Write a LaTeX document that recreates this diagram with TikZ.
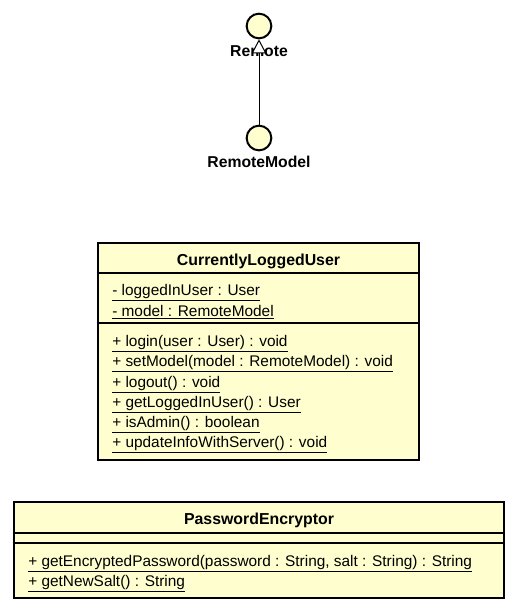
\documentclass[tikz,border=0pt]{standalone}
\usepackage{fontspec}
\setmainfont{Liberation Sans}
\usetikzlibrary{arrows.meta}
\definecolor{umlfill}{HTML}{FEFECE}

\begin{document}
\begin{tikzpicture}[
  x=0.75pt, y=-0.75pt,
  iface/.style={circle, draw=black, fill=umlfill, line width=1.5pt, minimum size=18.5pt, inner sep=0pt},
  ifacename/.style={font=\fontsize{11.8}{13}\selectfont\bfseries, inner sep=0pt},
  classbox/.style={draw=black, fill=umlfill, line width=2.2pt, inner sep=0pt},
  classname/.style={font=\fontsize{11.9}{13}\selectfont\bfseries, inner sep=0pt},
  member/.style={anchor=base west, font=\fontsize{11.55}{13}\selectfont, inner sep=0pt},
  sepline/.style={draw=black, line width=1pt},
  realize/.style={draw=black, line width=0.75pt, -{Triangle[fill=white, length=10.5pt, width=11pt]}}
]
  \useasboundingbox (0,0) rectangle (518,612);

  % interfaces
  \node[iface] (remote) at (259,26) {};
  \node[ifacename] (remotename) at (259,51) {Remote};
  \node[iface] (remotemodel) at (259,138) {};
  \node[ifacename] (remotemodelname) at (259,162) {RemoteModel};
  \draw[realize] (remotemodel) -- (remote);

  % CurrentlyLoggedUser
  \node[classbox, minimum width=240.75pt, minimum height=162.75pt] (clu) at (258.5,351.5) {};
  \node[classname] (clutitle) at (258.5,261) {CurrentlyLoggedUser};
  \draw[sepline] (clu.west |- 0,273) -- (clu.east |- 0,273);
  \draw[sepline] (clu.west |- 0,323) -- (clu.east |- 0,323);
  \node[member] (cluattra) at (112,295) {\underline{- loggedInUser : User}};
  \node[member] (cluattrb) at (112,316) {\underline{- model : RemoteModel}};
  \node[member] (cluopa) at (112,346) {\underline{+ login(user : User) : void}};
  \node[member] (cluopb) at (112,366) {\underline{+ setModel(model : RemoteModel) : void}};
  \node[member] (cluopc) at (112,387) {\underline{+ logout() : void}};
  \node[member] (cluopd) at (112,407) {\underline{+ getLoggedInUser() : User}};
  \node[member] (cluope) at (112,427) {\underline{+ isAdmin() : boolean}};
  \node[member] (cluopf) at (112,447) {\underline{+ updateInfoWithServer() : void}};

  % PasswordEncryptor
  \node[classbox, minimum width=367.5pt, minimum height=72pt] (pe) at (259,550) {};
  \node[classname] (petitle) at (259,520) {PasswordEncryptor};
  \draw[sepline] (pe.west |- 0,533) -- (pe.east |- 0,533);
  \draw[sepline] (pe.west |- 0,543) -- (pe.east |- 0,543);
  \node[member] (peopa) at (28,566) {\underline{+ getEncryptedPassword(password : String, salt : String) : String}};
  \node[member] (peopb) at (28,586) {\underline{+ getNewSalt() : String}};
\end{tikzpicture}
\end{document}
